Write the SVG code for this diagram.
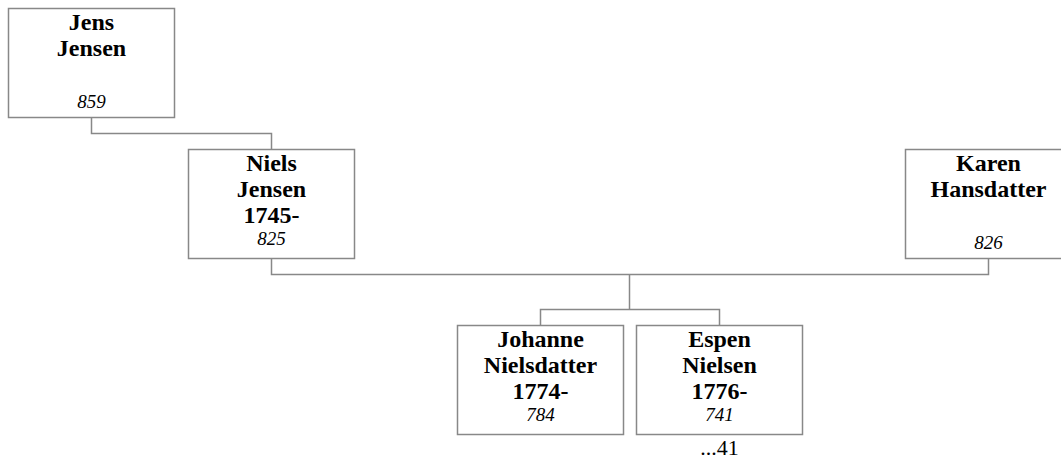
<svg xmlns="http://www.w3.org/2000/svg" width="1061" height="462" viewBox="0 0 1061 462">
<style>
.box{fill:#fff;stroke:#888;stroke-width:1.5}
.conn{fill:none;stroke:#888;stroke-width:1.5}
text{font-family:"Liberation Serif","Times New Roman",serif;text-anchor:middle;fill:#000}
.n{font-weight:bold;font-size:24px}
.r{font-style:italic;font-size:19px}
.m{font-size:22px}
</style>
<rect width="1061" height="462" fill="#fff"/>
<g id="connectors">
<path class="conn" d="M91.5 117.5V133.5H271.5V149.5"/>
<path class="conn" d="M271.5 258.5V274.5H988.5V258.5"/>
<path class="conn" d="M629.5 274.5V309.5"/>
<path class="conn" d="M540.5 325.5V309.5H719.5V325.5"/>
</g>
<g id="jens-jensen">
<rect class="box" x="8.5" y="8.5" width="166" height="109"/>
<text class="n" x="91.5" y="29.5">Jens</text>
<text class="n" x="91.5" y="55.5">Jensen</text>
<text class="r" x="91.5" y="108">859</text>
</g>
<g id="niels-jensen">
<rect class="box" x="188.5" y="149.5" width="166" height="109"/>
<text class="n" x="271.5" y="170.5">Niels</text>
<text class="n" x="271.5" y="196.5">Jensen</text>
<text class="n" x="271.5" y="222.5">1745-</text>
<text class="r" x="271.5" y="244.5">825</text>
</g>
<g id="karen-hansdatter">
<rect class="box" x="905.5" y="149.5" width="166" height="109"/>
<text class="n" x="988.5" y="170.5">Karen</text>
<text class="n" x="988.5" y="196.5">Hansdatter</text>
<text class="r" x="988.5" y="249">826</text>
</g>
<g id="johanne-nielsdatter">
<rect class="box" x="457.5" y="325.5" width="166" height="109"/>
<text class="n" x="540.5" y="346.5">Johanne</text>
<text class="n" x="540.5" y="372.5">Nielsdatter</text>
<text class="n" x="540.5" y="398.5">1774-</text>
<text class="r" x="540.5" y="420.5">784</text>
</g>
<g id="espen-nielsen">
<rect class="box" x="636.5" y="325.5" width="166" height="109"/>
<text class="n" x="719.5" y="346.5">Espen</text>
<text class="n" x="719.5" y="372.5">Nielsen</text>
<text class="n" x="719.5" y="398.5">1776-</text>
<text class="r" x="719.5" y="420.5">741</text>
<text class="m" x="719.5" y="455">...41</text>
</g>
</svg>
